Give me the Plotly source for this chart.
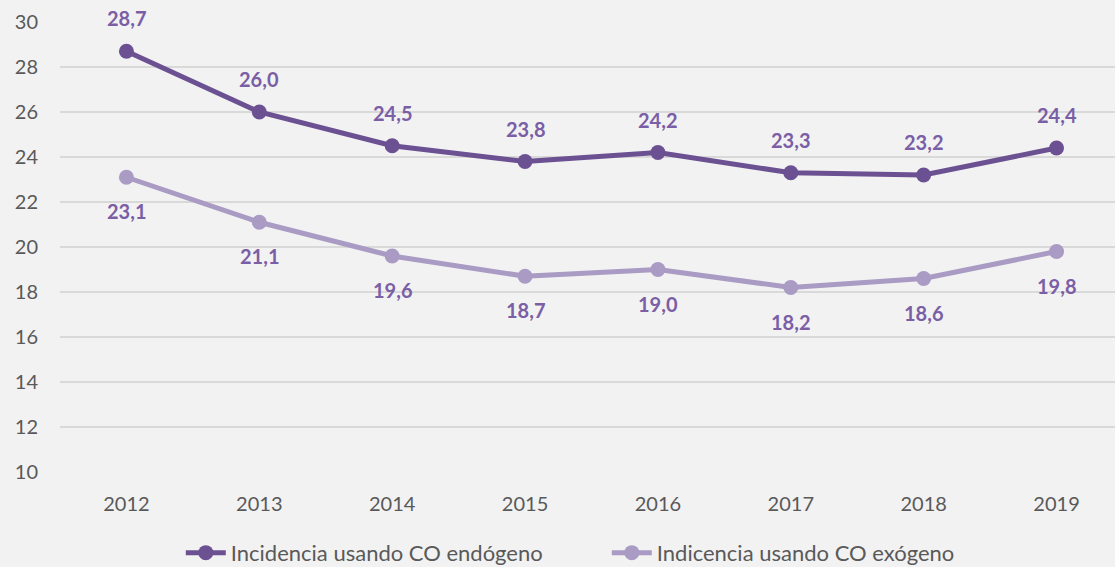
import plotly.graph_objects as go

years = [2012, 2013, 2014, 2015, 2016, 2017, 2018, 2019]
endogeno = [28.7, 26.0, 24.5, 23.8, 24.2, 23.3, 23.2, 24.4]
exogeno = [23.1, 21.1, 19.6, 18.7, 19.0, 18.2, 18.6, 19.8]
name_endo = "Incidencia usando CO endógeno"
name_exo = "Indicencia usando CO exógeno"
y_ticks = [10, 12, 14, 16, 18, 20, 22, 24, 26, 28, 30]

dark = "#6b5192"
light = "#a99bc4"
label_color = "#7a5ea6"
font_family = "Lato, 'Open Sans', sans-serif"

fig = go.Figure()
fig.add_trace(go.Scatter(x=years, y=endogeno, name=name_endo, mode="lines+markers",
                         line=dict(color=dark, width=5), marker=dict(color=dark, size=15)))
fig.add_trace(go.Scatter(x=years, y=exogeno, name=name_exo, mode="lines+markers",
                         line=dict(color=light, width=5), marker=dict(color=light, size=15)))

fmt = lambda v: f"{v:.1f}".replace(".", ",")
for xv, yv in zip(years, endogeno):
    fig.add_annotation(x=xv, y=yv, text=f"<b>{fmt(yv)}</b>", showarrow=False, yshift=33,
                       font=dict(size=20, color=label_color, family=font_family))
for xv, yv in zip(years, exogeno):
    fig.add_annotation(x=xv, y=yv, text=f"<b>{fmt(yv)}</b>", showarrow=False, yshift=-34,
                       font=dict(size=20, color=label_color, family=font_family))

fig.update_layout(
    width=1115, height=567,
    margin=dict(l=60, r=0, t=22, b=95),
    paper_bgcolor="#f2f2f2", plot_bgcolor="#f2f2f2",
    font=dict(family=font_family, size=20, color="#595959"),
    showlegend=True,
    legend=dict(orientation="h", x=0.1145, xanchor="left", y=0.025, yref="container",
                yanchor="middle", font=dict(size=22, color="#595959"),
                bgcolor="rgba(0,0,0,0)", itemwidth=40, tracegroupgap=0,
                entrywidth=371, entrywidthmode="pixels"),
)
fig.update_xaxes(range=[2011.5, 2019.44], tickvals=years, ticktext=[str(y) for y in years],
                 showgrid=False, zeroline=False,
                 showline=False, ticks="outside", ticklen=14, tickcolor="rgba(0,0,0,0)",
                 tickfont=dict(size=20, color="#595959"))
fig.update_yaxes(range=[10, 30], tickvals=y_ticks, showgrid=True, gridcolor="#d9d9d9",
                 gridwidth=1.5, zeroline=False, showline=False, ticks="outside", ticklen=17,
                 tickcolor="rgba(0,0,0,0)", tickfont=dict(size=20, color="#595959"))

fig.write_html("out.html", post_script="document.body.style.margin='0';",
               config={"displayModeBar": False})
